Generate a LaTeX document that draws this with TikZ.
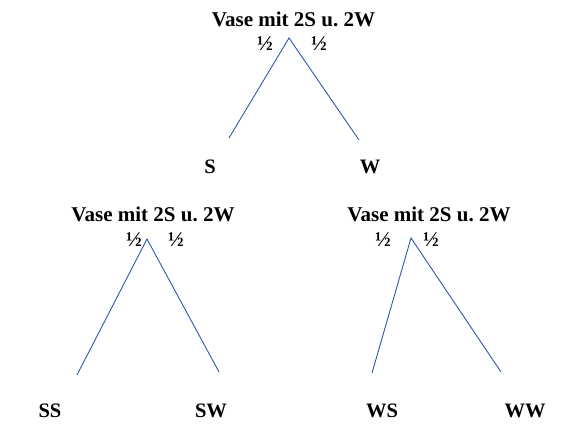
\documentclass[tikz,border=0pt]{standalone}
\usepackage{fontspec}
\setmainfont{Liberation Serif}
\definecolor{branch}{HTML}{2E5AAC}
\begin{document}
\frenchspacing
\begin{tikzpicture}[x=1pt,y=-1pt,
  title/.style={font=\bfseries\fontsize{21}{23}\selectfont, anchor=base, inner sep=0pt},
  leaf/.style={font=\bfseries\fontsize{20.5}{22}\selectfont, anchor=base, inner sep=0pt},
  half/.style={font=\bfseries\fontsize{21}{23}\selectfont, anchor=base, inner sep=0pt},
  branchline/.style={draw=branch, line width=0.9pt}]
\useasboundingbox[fill=white] (0,0) rectangle (570,436);
% top tree
\node[title] (t1) at (293.5,27) {Vase mit 2S u. 2W};
\coordinate (a1) at (289,38);
\node[half] (h1l) at (265,51) {½};
\node[half] (h1r) at (319,51) {½};
\coordinate (e1l) at (229,138);
\coordinate (e1r) at (359,140);
\node[leaf] (S) at (210,173) {S};
\node[leaf] (W) at (370,173) {W};
\draw[branchline] (e1l) -- (a1) -- (e1r);
% left tree
\node[title] (t2) at (153,221) {Vase mit 2S u. 2W};
\coordinate (a2) at (147,239);
\node[half] (h2l) at (134,246) {½};
\node[half] (h2r) at (176,246) {½};
\coordinate (e2l) at (77,375);
\coordinate (e2r) at (219,372);
\node[leaf] (SS) at (50,417) {SS};
\node[leaf] (SW) at (211,417) {SW};
\draw[branchline] (e2l) -- (a2) -- (e2r);
% right tree
\node[title] (t3) at (429,221) {Vase mit 2S u. 2W};
\coordinate (a3) at (411,238);
\node[half] (h3l) at (383,246) {½};
\node[half] (h3r) at (431,246) {½};
\coordinate (e3l) at (372,373);
\coordinate (e3r) at (501,372);
\node[leaf] (WS) at (382,417) {WS};
\node[leaf] (WW) at (525,417) {WW};
\draw[branchline] (e3l) -- (a3) -- (e3r);
\end{tikzpicture}
\end{document}
